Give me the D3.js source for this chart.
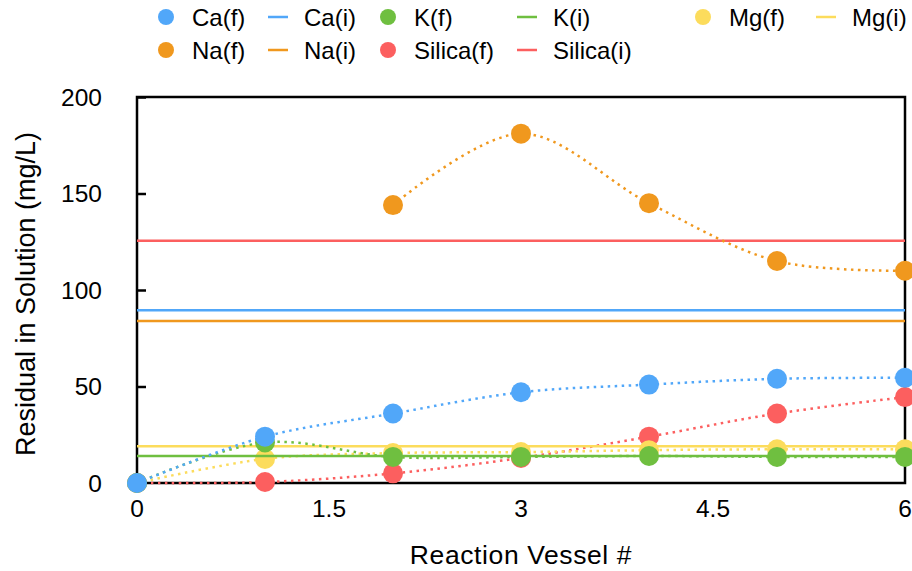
<!DOCTYPE html>
<html>
<head>
<meta charset="utf-8">
<script src="https://cdn.jsdelivr.net/npm/d3@7"></script>
<style>
  body { margin: 0; background: #fff; }
  text { font-family: "Liberation Sans", Arial, Helvetica, sans-serif; fill: #000; }
</style>
</head>
<body>
<svg id="chart"></svg>
<script>
// values
var vessels = [0, 1, 2, 3, 4, 5, 6]
var caF = [0, 24, 36, 47, 51, 54, 54.5]
var naF = [null, null, 144, 181, 145, 115, 110]
var kF = [0, 21, 13.5, 13.5, 14, 13.5, 13.5]
var mgF = [0, 12.5, 15.5, 16, 17, 17.5, 17.5]
var silicaF = [0, 0.5, 5, 13, 24, 36, 44.5]

var caI = 89.5
var naI = 84
var kI = 14
var mgI = 19
var silicaI = 125.5

var xTicks = [0, 1.5, 3, 4.5, 6]
var yTicks = [0, 50, 100, 150, 200]

var dimensions = {
  width: 912,
  height: 571,
  margin: { top: 97, bottom: 88, right: 6, left: 137 }
}

var svg = d3.select("#chart")
  .attr("width", dimensions.width)
  .attr("height", dimensions.height)

var xScale = d3.scaleLinear()
  .domain([0, 6])
  .range([dimensions.margin.left, dimensions.width - dimensions.margin.right - 1])

var yScale = d3.scaleLinear()
  .domain([0, 200])
  .range([dimensions.height - dimensions.margin.bottom, dimensions.margin.top])

var series = [
  { name: "Ca", color: "#51a7f9", f: caF, i: caI },
  { name: "K", color: "#6fbf40", f: kF, i: kI },
  { name: "Mg", color: "#fcdc5c", f: mgF, i: mgI },
  { name: "Na", color: "#f0981e", f: naF, i: naI },
  { name: "Silica", color: "#fc5f5f", f: silicaF, i: silicaI }
]

// frame
svg.append("rect")
  .attr("x", xScale(0))
  .attr("y", yScale(200))
  .attr("width", xScale(6) - xScale(0))
  .attr("height", yScale(0) - yScale(200))
  .attr("fill", "none")
  .attr("stroke", "#000")
  .attr("stroke-width", 2.5)

var yAxisGen = d3.axisRight(yScale).tickValues(yTicks).tickSize(9).tickFormat("")
svg.append("g")
  .attr("transform", `translate(${xScale(0)},0)`)
  .call(yAxisGen)
  .call(g => g.select(".domain").remove())
  .call(g => g.selectAll("line").attr("stroke", "#000").attr("stroke-width", 2.5))

svg.append("g")
  .selectAll("text")
  .data(yTicks)
  .enter()
  .append("text")
  .attr("x", xScale(0) - 35)
  .attr("y", d => yScale(d))
  .attr("dy", "0.36em")
  .attr("text-anchor", "end")
  .attr("font-size", 24.5)
  .text(d => d)

svg.append("g")
  .selectAll("text")
  .data(xTicks)
  .enter()
  .append("text")
  .attr("x", d => xScale(d))
  .attr("y", yScale(0) + 34)
  .attr("text-anchor", "middle")
  .attr("font-size", 24.5)
  .text(d => d)

svg.append("text")
  .attr("x", (xScale(0) + xScale(6)) / 2)
  .attr("y", 564)
  .attr("text-anchor", "middle")
  .attr("font-size", 26.5)
  .attr("letter-spacing", 0.6)
  .text("Reaction Vessel #")

svg.append("text")
  .attr("transform", `translate(35,294) rotate(-90)`)
  .attr("text-anchor", "middle")
  .attr("font-size", 27)
  .text("Residual in Solution (mg/L)")

// draw back to front so Ca ends on top
var order = series.slice().reverse()

var line = d3.line()
  .x(d => xScale(d[0]))
  .y(d => yScale(d[1]))
  .curve(d3.curveCatmullRom)

order.forEach(function (s) {
  var pts = vessels.map((v, k) => [v, s.f[k]]).filter(d => d[1] != null)

  svg.append("line")
    .attr("x1", xScale(0))
    .attr("x2", xScale(6))
    .attr("y1", yScale(s.i))
    .attr("y2", yScale(s.i))
    .attr("stroke", s.color)
    .attr("stroke-width", 2.5)

  svg.append("path")
    .datum(pts)
    .attr("d", line)
    .attr("fill", "none")
    .attr("stroke", s.color)
    .attr("stroke-width", 2.5)
    .attr("stroke-dasharray", "2.5,4.5")

  svg.append("g")
    .selectAll("circle")
    .data(pts)
    .enter()
    .append("circle")
    .attr("cx", d => xScale(d[0]))
    .attr("cy", d => yScale(d[1]))
    .attr("r", 10)
    .attr("fill", s.color)
})

// legend
var legendItems = [
  { label: "Ca(f)", s: 0, kind: "f", col: 0, row: 0 },
  { label: "Ca(i)", s: 0, kind: "i", col: 1, row: 0 },
  { label: "K(f)", s: 1, kind: "f", col: 2, row: 0 },
  { label: "K(i)", s: 1, kind: "i", col: 3, row: 0 },
  { label: "Mg(f)", s: 2, kind: "f", col: 4, row: 0 },
  { label: "Mg(i)", s: 2, kind: "i", col: 5, row: 0 },
  { label: "Na(f)", s: 3, kind: "f", col: 0, row: 1 },
  { label: "Na(i)", s: 3, kind: "i", col: 1, row: 1 },
  { label: "Silica(f)", s: 4, kind: "f", col: 2, row: 1 },
  { label: "Silica(i)", s: 4, kind: "i", col: 3, row: 1 }
]
var legendCols = [166, 278, 388, 527, 703, 826]
var legendRows = [17, 50]

var leg = svg.append("g")
  .selectAll("g")
  .data(legendItems)
  .enter()
  .append("g")
  .attr("transform", d => `translate(${legendCols[d.col]},${legendRows[d.row]})`)

leg.filter(d => d.kind == "f")
  .append("circle")
  .attr("r", 8)
  .attr("fill", d => series[d.s].color)

leg.filter(d => d.kind == "i")
  .append("line")
  .attr("x1", -10)
  .attr("x2", 10)
  .attr("stroke", d => series[d.s].color)
  .attr("stroke-width", 2.5)

leg.append("text")
  .attr("x", 26)
  .attr("dy", "0.36em")
  .attr("font-size", 24)
  .text(d => d.label)
</script>
</body>
</html>
